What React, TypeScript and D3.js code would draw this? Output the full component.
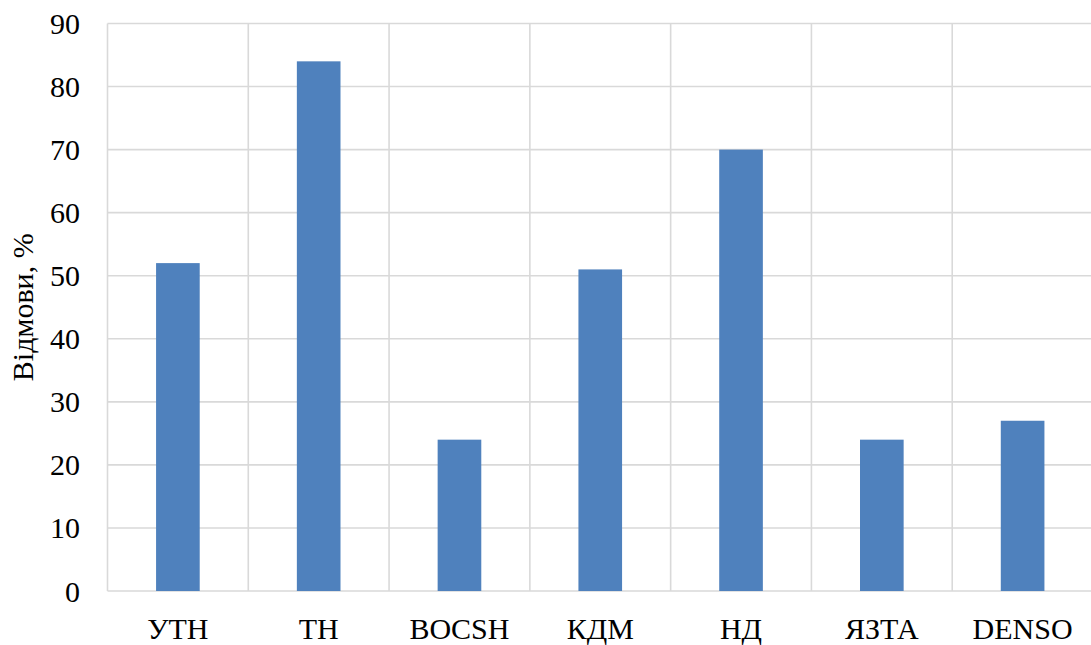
import React from "react";
import * as d3 from "d3";

const categories = ["УТН", "ТН", "BOCSH", "КДМ", "НД", "ЯЗТА", "DENSO"];
const values = [52, 84, 24, 51, 70, 24, 27];
const yTicks = [0, 10, 20, 30, 40, 50, 60, 70, 80, 90];
const yTitle = "Відмови, %";

const W = 1091;
const H = 645;
const left = 107.5;
const right = 1093;
const top = 23.5;
const bottom = 591;

const textStyle: React.CSSProperties = {
  fontFamily: "'Liberation Serif', 'Times New Roman', serif",
  fontSize: "30px",
  fill: "#000",
};

export default function App() {
  const x = d3
    .scaleBand<string>()
    .domain(categories)
    .range([left, right])
    .paddingInner(0.69)
    .paddingOuter(0.345);
  const y = d3.scaleLinear().domain([0, 90]).range([bottom, top]);
  const step = x.step();

  return (
    <svg
      width={W}
      height={H}
      style={{ position: "absolute", left: 0, top: 0, background: "#fff" }}
    >
      {/* horizontal grid */}
      {yTicks.map((t) => (
        <line
          key={"h" + t}
          x1={left}
          x2={right}
          y1={y(t)}
          y2={y(t)}
          stroke="#D9D9D9"
          strokeWidth={1.6}
        />
      ))}
      {/* vertical category separators */}
      {d3.range(categories.length + 1).map((i) => (
        <line
          key={"v" + i}
          x1={left + i * step}
          x2={left + i * step}
          y1={top}
          y2={bottom}
          stroke="#D9D9D9"
          strokeWidth={1.6}
        />
      ))}
      {/* bars */}
      {categories.map((c, i) => (
        <rect
          key={c}
          x={x(c)}
          width={x.bandwidth()}
          y={y(values[i])}
          height={y(0) - y(values[i])}
          fill="#4F81BD"
        />
      ))}
      {/* y tick labels */}
      {yTicks.map((t) => (
        <text
          key={"t" + t}
          x={80}
          y={y(t)}
          dy="0.35em"
          textAnchor="end"
          style={textStyle}
        >
          {t}
        </text>
      ))}
      {/* category labels */}
      {categories.map((c) => (
        <text
          key={"c" + c}
          x={(x(c) as number) + x.bandwidth() / 2}
          y={639}
          textAnchor="middle"
          style={textStyle}
        >
          {c}
        </text>
      ))}
      {/* y axis title */}
      <text
        transform={`translate(33, ${(top + bottom) / 2}) rotate(-90)`}
        textAnchor="middle"
        style={textStyle}
      >
        {yTitle}
      </text>
    </svg>
  );
}
